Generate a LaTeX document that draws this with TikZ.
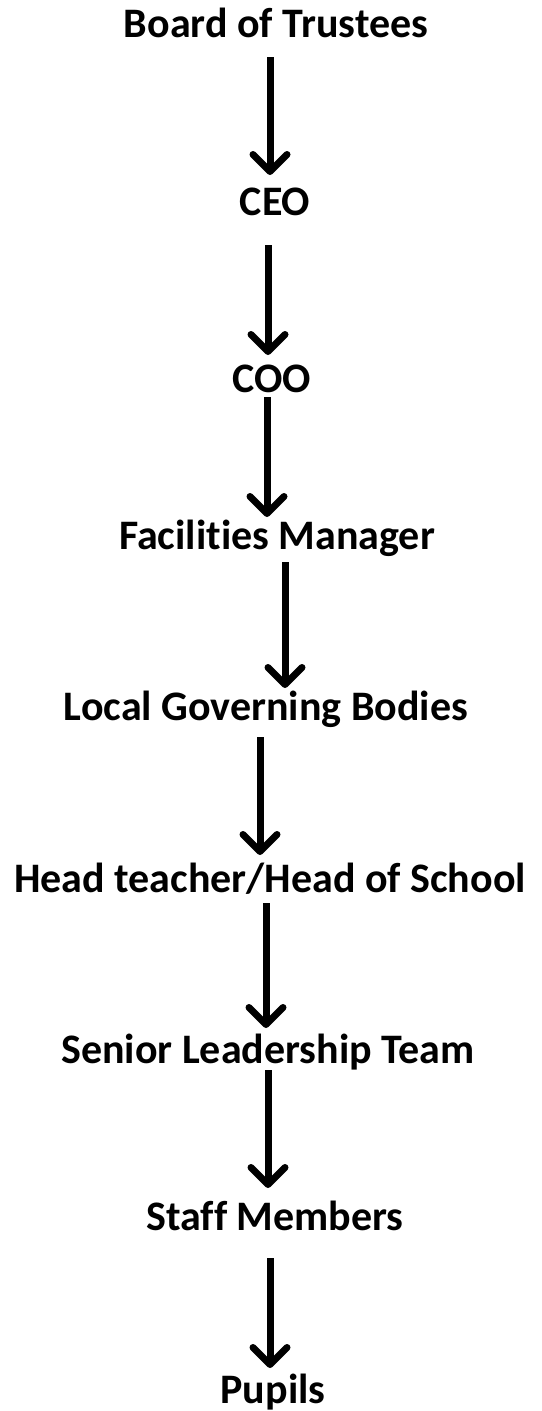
\documentclass[tikz,border=0pt]{standalone}
\usepackage{fontspec}
\setmainfont{Carlito}[Ligatures={NoCommon,NoContextual}]
\usetikzlibrary{arrows.meta}
% breaks a letter pair that the font would otherwise join
\newcommand{\nolig}{\kern0pt{}}
\begin{document}
\begin{tikzpicture}[x=1pt,y=-1pt,
  lbl/.style={font=\fontsize{42}{46}\selectfont\bfseries, inner sep=0pt, anchor=base},
  arr/.style={line width=7pt, -{Straight Barb[length=17pt,width=34pt,round]}}]
\useasboundingbox (0,0) rectangle (541,1411);
\node[lbl] (bot)   at (276,37)   {Board of Trustees};
\node[lbl] (ceo)   at (275,215)  {CEO};
\node[lbl] (coo)   at (272,392)  {COO};
\node[lbl] (fac)   at (277,549)  {Facilit\nolig ies Manager};
\node[lbl] (lgb)   at (266,720)  {Local Governing Bodies};
\node[lbl] (head)  at (270,892)  {Head teacher/Head of School};
\node[lbl] (slt)   at (268,1063) {Senior Leadership Team};
\node[lbl] (staff) at (275,1230) {Staf\nolig f Members};
\node[lbl] (pup)   at (273,1403) {Pupils};
% each arrow runs from under one title to just above the next
\draw[arr] ([xshift=-6pt,yshift=-20pt]bot.base)   -- ([xshift=-5pt,yshift=40pt]ceo.base);
\draw[arr] ([xshift=-7pt,yshift=-30pt]ceo.base)   -- ([xshift=-4pt,yshift=37pt]coo.base);
\draw[arr] ([xshift=-5pt,yshift=-5pt]coo.base)    -- ([xshift=-10pt,yshift=32pt]fac.base);
\draw[arr] ([xshift=8pt,yshift=-13pt]fac.base)    -- ([xshift=19pt,yshift=32pt]lgb.base);
\draw[arr] ([xshift=-6pt,yshift=-17pt]lgb.base)   -- ([xshift=-10pt,yshift=37pt]head.base);
\draw[arr] ([xshift=-4pt,yshift=-11pt]head.base)  -- ([xshift=-2pt,yshift=35pt]slt.base);
\draw[arr] ([xshift=0pt,yshift=-7pt]slt.base)     -- ([xshift=-7pt,yshift=42pt]staff.base);
\draw[arr] ([xshift=-5pt,yshift=-28pt]staff.base) -- ([xshift=-3pt,yshift=35pt]pup.base);
\end{tikzpicture}
\end{document}
